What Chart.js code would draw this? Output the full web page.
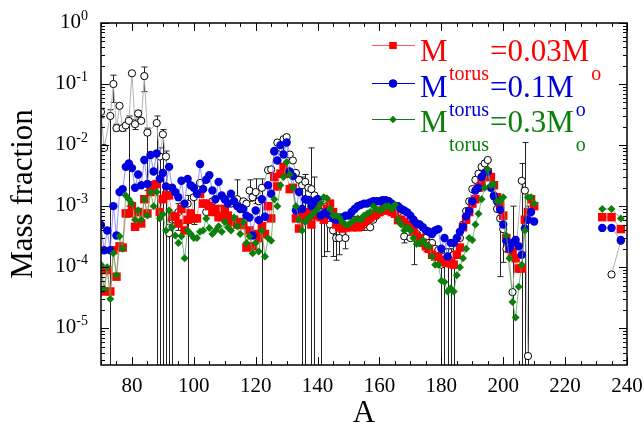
<!DOCTYPE html>
<html>
<head>
<meta charset="utf-8">
<script src="https://cdn.jsdelivr.net/npm/chart.js@4.4.1/dist/chart.umd.min.js"></script>
<style>
  html, body { margin: 0; padding: 0; background: #fff; }
</style>
</head>
<body>
<canvas id="plot" width="644" height="425"></canvas>
<script>
// mass numbers of the model points
const massA = [
  70, 71, 72, 73, 74, 75, 76, 77, 78, 79,
  80, 81, 82, 83, 84, 85, 86, 87, 88, 89,
  90, 91, 92, 93, 94, 95, 96, 97, 98, 99,
  100, 101, 102, 103, 104, 105, 106, 107, 108, 109,
  110, 111, 112, 113, 114, 115, 116, 117, 118, 119,
  120, 121, 122, 123, 124, 125, 126, 127, 128, 129,
  130, 131, 132, 133, 134, 135, 136, 137, 138, 139,
  140, 141, 142, 143, 144, 145, 146, 147, 148, 149,
  150, 151, 152, 153, 154, 155, 156, 157, 158, 159,
  160, 161, 162, 163, 164, 165, 166, 167, 168, 169,
  170, 171, 172, 173, 174, 175, 176, 177, 178, 179,
  180, 181, 182, 183, 184, 185, 186, 187, 188, 189,
  190, 191, 192, 193, 194, 195, 196, 197, 198, 199,
  200, 201, 202, 203, 204, 205, 206, 207, 208, 209, 210,
  232, 235, 238
];

// M_torus = 0.03 Msun
const torus003 = [
  9e-5, 4e-5, 9e-5, 4e-5, 1.9e-4, 7e-5, 2.2e-4, 2.1e-4, 7.6e-4, 7.6e-4,
  1e-3, 4.6e-4, 8e-4, 5.2e-4, 1.3e-3, 7.6e-4, 1.7e-3, 2.2e-3, 2.3e-3, 8e-4,
  1.3e-3, 1.5e-3, 1.5e-3, 6.7e-4, 6.7e-4, 5.2e-4, 9e-4, 4e-4, 6e-4, 7.6e-4,
  6.3e-4, 6.3e-4, 1.6e-3, 1.1e-3, 1.1e-3, 1e-3, 8e-4, 9e-4, 6.6e-4, 6.6e-4,
  9e-4, 7e-4, 5.5e-4, 6e-4, 5e-4, 5.5e-4, 4.9e-4, 2.1e-4, 4e-4, 2.2e-4,
  3.5e-4, 3e-4, 4.7e-4, 3.5e-4, 1e-3, 6.3e-4, 3e-3, 2.1e-3, 3.4e-3, 4.4e-3,
  3.4e-3, 1.9e-3, 2e-3, 6.3e-4, 4.3e-4, 7e-4, 6e-4, 8e-4, 5e-4, 7e-4,
  1.1e-3, 6.6e-4, 6e-4, 9e-4, 1.1e-3, 8e-4, 5e-4, 4.5e-4, 4.3e-4, 4.5e-4,
  4.6e-4, 4.5e-4, 4.8e-4, 4.5e-4, 4.7e-4, 5.5e-4, 6e-4, 6.5e-4, 7e-4, 7.5e-4,
  8e-4, 8.5e-4, 9e-4, 8.5e-4, 8e-4, 7.5e-4, 5.9e-4, 6e-4, 5.5e-4, 5e-4,
  4.5e-4, 3.8e-4, 3.2e-4, 3e-4, 2.5e-4, 2.2e-4, 2e-4, 1.6e-4, 1.5e-4, 1.5e-4,
  1.3e-4, 1.2e-4, 1.2e-4, 1.15e-4, 1.1e-4, 1.6e-4, 2.1e-4, 4.5e-4, 6e-4, 8e-4,
  1.1e-3, 1.3e-3, 2e-3, 2.5e-3, 3e-3, 3.6e-3, 3e-3, 2.2e-3, 1.4e-3, 1.05e-3,
  7e-4, 3e-4, 2e-4, 1.8e-4, 1.4e-4, 9.5e-5, 9.5e-5, 6e-4, 8e-4, 1.3e-3, 1e-3,
  6.6e-4, 6.6e-4, 4.2e-4
];

// M_torus = 0.1 Msun
const torus01 = [
  4.9e-4, 1.9e-4, 4e-4, 1.9e-4, 1e-3, 3.3e-4, 1.7e-3, 1.9e-3, 4.4e-3, 5e-3,
  4.2e-3, 2e-3, 3.3e-3, 2.2e-3, 5.7e-3, 2.3e-3, 6.9e-3, 3.7e-3, 7.3e-3, 2.8e-3,
  3.5e-3, 2.1e-3, 4.4e-3, 2e-3, 1.7e-3, 1.4e-3, 2.6e-3, 1.1e-3, 2.8e-3, 2.2e-3,
  2e-3, 1.6e-3, 4.9e-3, 1.9e-3, 2.7e-3, 3.2e-3, 1.8e-3, 1.3e-3, 2.5e-3, 1.5e-3,
  1.3e-3, 1.1e-3, 1.6e-3, 1.2e-3, 1e-3, 9e-4, 9e-4, 7e-4, 6.5e-4, 3.3e-4,
  8.5e-4, 5.9e-4, 1.3e-3, 6.7e-4, 2.2e-3, 1.6e-3, 8e-3, 5.6e-3, 1e-2, 7e-3,
  1.1e-2, 3.7e-3, 3.1e-3, 8.5e-4, 1.7e-3, 9e-4, 1.3e-3, 1.26e-3, 1e-3, 1.2e-3,
  1.3e-3, 7e-4, 7.6e-4, 8e-4, 7e-4, 6.3e-4, 6e-4, 6.5e-4, 6.5e-4, 7e-4,
  7e-4, 8e-4, 9e-4, 1e-3, 1.05e-3, 1.1e-3, 1.1e-3, 1.15e-3, 1.2e-3, 1.2e-3,
  1.2e-3, 1.25e-3, 1.25e-3, 1.2e-3, 1.1e-3, 1e-3, 1e-3, 9e-4, 8.5e-4, 7.9e-4,
  7e-4, 6e-4, 5.2e-4, 5e-4, 4.5e-4, 4e-4, 3.8e-4, 3.5e-4, 4e-4, 4.2e-4,
  2e-4, 3e-4, 1.5e-4, 2.5e-4, 2.5e-4, 3e-4, 3.8e-4, 4.6e-4, 6.8e-4, 8.3e-4,
  1.2e-3, 1.8e-3, 2e-3, 3e-3, 3.5e-3, 3.7e-3, 2e-3, 1.45e-3, 1.2e-3, 8.7e-4,
  5e-4, 2.7e-4, 2e-4, 2.5e-4, 2.8e-4, 2.2e-4, 1.6e-4, 4.3e-4, 6e-4, 8e-4, 5.6e-4,
  4.4e-4, 4.4e-4, 2.8e-4
];

// M_torus = 0.3 Msun
const torus03 = [
  1.1e-4, 4.4e-5, 1e-4, 3e-5, 1.7e-4, 7.4e-5, 3.2e-4, 2e-4, 1.5e-3, 1.3e-3,
  1.1e-3, 6e-4, 8.6e-4, 6e-4, 1.3e-3, 7e-4, 1.7e-3, 1e-3, 1.7e-3, 6.3e-4,
  7.4e-4, 4e-4, 8.5e-4, 4.5e-4, 3.3e-4, 2.5e-4, 3.2e-4, 1.4e-4, 4e-4, 3.5e-4,
  3e-4, 3e-4, 3.8e-4, 4e-4, 6.3e-4, 4.4e-4, 3.5e-4, 4e-4, 4.7e-4, 3.8e-4,
  5.5e-4, 4.5e-4, 4e-4, 6.5e-4, 4.7e-4, 3.5e-4, 5.5e-4, 2.5e-4, 3.2e-4, 1.7e-4,
  2.5e-4, 1.8e-4, 4e-4, 1.5e-4, 3e-4, 2.7e-4, 1.3e-3, 1e-3, 2.2e-3, 3e-3,
  5.3e-3, 3.3e-3, 2e-3, 1e-3, 6e-4, 4e-4, 5.5e-4, 6.3e-4, 7e-4, 8e-4,
  9e-4, 1.1e-3, 1.4e-3, 1.35e-3, 9e-4, 7e-4, 7e-4, 6.5e-4, 5.5e-4, 5e-4,
  5e-4, 5.5e-4, 6e-4, 6.3e-4, 6e-4, 7e-4, 7.5e-4, 8e-4, 1e-3, 9e-4,
  8.5e-4, 9e-4, 1e-3, 1e-3, 9e-4, 1.05e-3, 6e-4, 5e-4, 4e-4, 4.5e-4,
  4e-4, 3e-4, 2.4e-4, 2.5e-4, 2.8e-4, 2.3e-4, 2.2e-4, 1.5e-4, 1.1e-4, 1.1e-4,
  6e-5, 5.7e-5, 4e-5, 4.5e-5, 4e-5, 7.4e-5, 1e-4, 1.4e-4, 2e-4, 3e-4,
  2.8e-4, 5e-4, 7.5e-4, 1.3e-3, 2e-3, 4e-3, 2.2e-3, 2.3e-3, 1.2e-3, 1.2e-3,
  1.4e-3, 3.3e-4, 1.4e-4, 2.7e-5, 1.5e-5, 4.8e-5, 1.1e-4, 4e-4, 1.4e-3, 1.4e-3, 1.1e-3,
  9e-4, 9e-4, 6.3e-4
];

// solar r-process abundances (open circles) with error bars; lo = 0 means bar runs off the bottom
const solarA = [
  70, 71, 73, 74, 75, 76, 77, 78, 79, 80, 81, 82, 83, 84, 85,
  88, 89, 90, 91, 92, 93, 94, 95, 96, 97, 98, 99, 100,
  102, 104, 106, 108, 110, 112, 114, 116, 117, 118, 119, 120, 121, 122,
  124, 125, 126, 127, 128, 129, 130, 131, 132, 133, 134, 135, 136, 137, 138, 139,
  140, 141, 142, 143, 144, 145, 146, 147, 148, 149,
  150, 151, 152, 153, 154, 155, 156, 157, 158, 159,
  160, 161, 162, 163, 164, 165, 166, 167, 168, 169,
  170, 171, 172, 173, 174, 175, 176, 177, 178, 179,
  180, 181, 182, 183, 184, 185, 186, 187, 188, 189,
  190, 191, 192, 193, 194, 195, 196, 197, 198, 199,
  200, 201, 203, 206, 207, 208, 235, 238
];
const solarVal = [
  0.035, 0.009, 0.03, 0.1, 0.019, 0.044, 0.019, 0.021, 0.025, 0.15, 0.022, 0.033, 0.025, 0.135, 0.016,
  0.023, 0.0065, 0.015, 0.0065, 3.6e-4, 6e-4, 6e-4, 8e-4, 1e-3, 4.6e-4, 1.1e-3, 6e-4, 1.4e-3,
  2.4e-3, 8e-4, 1.2e-3, 9e-4, 1.3e-3, 1.1e-3, 1.3e-3, 1.2e-3, 1.1e-3, 1.8e-3, 1.4e-3, 1.7e-3, 1.2e-3, 2e-3,
  3.9e-3, 4e-3, 7.8e-3, 1.1e-2, 9e-3, 1.25e-2, 1.35e-2, 7e-3, 5.6e-3, 3.5e-3, 2.7e-3, 2.2e-3, 2.5e-3, 2e-3, 1.9e-3, 1.5e-3,
  1.3e-3, 8e-4, 6e-4, 1e-3, 5e-4, 4e-4, 3e-4, 3e-4, 5e-4, 3e-4,
  4.5e-4, 5e-4, 6e-4, 6e-4, 6e-4, 5e-4, 5.5e-4, 4.5e-4, 6e-4, 7e-4,
  8e-4, 9e-4, 1e-3, 1e-3, 1e-3, 9e-4, 8e-4, 6e-4, 3.2e-4, 5e-4,
  3e-4, 4e-4, 3.5e-4, 3e-4, 3e-4, 3e-4, 2.5e-4, 2.5e-4, 2e-4, 1.9e-4,
  1.1e-4, 1.5e-4, 1.5e-4, 1.5e-4, 1.6e-4, 2e-4, 3e-4, 5e-4, 8.3e-4, 1.2e-3,
  1.9e-3, 2.7e-3, 3.4e-3, 4.4e-3, 5e-3, 5.7e-3, 3e-3, 1.5e-3, 9e-4, 6.3e-4,
  4.2e-4, 2e-4, 3.9e-5, 2.6e-3, 1.8e-3, 3.5e-6, 7.6e-5, 2.7e-4
];
const solarLo = [
  0.028, null, 0, 0.05, 0.017, null, 0.017, null, 0.001, null, 0.018, 0.028, null, 0.075, 0.0018,
  0, 0, 0, 0, 0, 0, null, 4e-4, null, null, 0, null, 5e-4,
  null, null, null, null, null, null, 9e-4, null, null, 1.2e-3, null, 1.1e-3, null, 0,
  null, null, null, null, null, null, null, null, null, null, null, 0, 0, null, 0, 0,
  null, 0, 1.5e-4, 1.8e-4, null, 1.5e-4, 1.3e-4, 1.6e-4, null, 2e-4,
  null, null, null, null, null, 4e-4, null, null, null, null,
  null, null, null, null, null, null, null, null, 2.5e-4, null,
  null, 1.1e-4, null, null, null, 1.8e-4, null, null, null, null,
  0, 0, 0, 0, 0, null, null, null, null, null,
  null, null, null, null, null, null, null, null, null, 7e-5,
  1.2e-4, null, 0, 0, 0, 0, null, null
];
const solarHi = [
  0.04, null, 0.038, 0.14, 0.022, null, 0.021, null, 0.03, null, 0.026, 0.037, null, 0.19, 0.019,
  0.03, 0.009, 0.018, 0.008, 5e-4, 8e-4, null, 1.1e-3, null, null, 1.5e-3, null, 2e-3,
  null, null, null, null, null, null, 2.7e-3, null, null, 2.7e-3, null, 2.8e-3, null, 2.8e-3,
  null, null, null, null, null, null, null, null, null, null, null, 3e-3, 3.3e-3, null, 9e-3, 3e-3,
  null, 1.2e-3, 9e-4, 1.3e-3, null, 6e-4, 4.5e-4, 4.5e-4, null, 5e-4,
  null, null, null, null, null, 6e-4, null, null, null, null,
  null, null, null, null, null, null, null, null, 5e-4, null,
  null, 5e-4, null, null, null, 4e-4, null, null, null, null,
  1.5e-4, 2e-4, 2e-4, 2e-4, 2.2e-4, null, null, null, null, null,
  null, null, null, null, null, null, null, null, null, 8e-4,
  6e-4, null, 1e-3, 5e-3, 1.1e-2, 1e-3, null, null
];

// axis ticks and legend text
const xTickVals = [80, 100, 120, 140, 160, 180, 200, 220, 240];
const yTickExps = [0, -1, -2, -3, -4, -5];
const legendValues = ['=0.03M', '=0.1M', '=0.3M'];
const legendColors = ['#ff0000', '#0000dd', '#0a800a'];

const SERIF = '"Liberation Serif", "Times New Roman", serif';

const toPoints = (xs, ys) => xs.map((x, i) => ({ x: x, y: ys[i] }));

// no connecting line across the big hole between A=210 and the actinides
const gapSegment = {
  borderColor: c => (c.p1.parsed.x - c.p0.parsed.x > 10 ? 'rgba(0,0,0,0)' : undefined)
};

// error bars of the open circles, drawn under the markers
const errorBars = {
  id: 'errorBars',
  beforeDatasetsDraw(chart) {
    const { ctx, chartArea, scales } = chart;
    ctx.save();
    ctx.beginPath();
    ctx.rect(chartArea.left, chartArea.top, chartArea.right - chartArea.left, chartArea.bottom - chartArea.top);
    ctx.clip();
    ctx.strokeStyle = '#222';
    ctx.lineWidth = 1;
    solarA.forEach((a, i) => {
      if (solarHi[i] == null) return;
      const x = Math.round(scales.x.getPixelForValue(a)) + 0.5;
      const yHi = scales.y.getPixelForValue(solarHi[i]);
      const yLo = solarLo[i] === 0 ? chartArea.bottom + 2 : scales.y.getPixelForValue(solarLo[i]);
      ctx.beginPath();
      ctx.moveTo(x, yHi);
      ctx.lineTo(x, yLo);
      ctx.moveTo(x - 3, yHi);
      ctx.lineTo(x + 3, yHi);
      if (solarLo[i] !== 0) {
        ctx.moveTo(x - 3, yLo);
        ctx.lineTo(x + 3, yLo);
      }
      ctx.stroke();
    });
    ctx.restore();
  }
};

// frame with inward ticks, tick labels, axis titles and the legend
const frame = {
  id: 'frame',
  afterDatasetsDraw(chart) {
    const { ctx, chartArea, scales } = chart;
    const { left, right, top, bottom } = chartArea;
    ctx.save();
    ctx.strokeStyle = '#000';
    ctx.lineWidth = 1.5;
    ctx.strokeRect(left, top, right - left, bottom - top);

    ctx.lineWidth = 1;
    ctx.beginPath();
    for (let a = 70; a <= 240; a += 5) {
      const x = Math.round(scales.x.getPixelForValue(a)) + 0.5;
      const len = a % 20 === 0 ? 8 : 4;
      ctx.moveTo(x, bottom); ctx.lineTo(x, bottom - len);
      ctx.moveTo(x, top); ctx.lineTo(x, top + len);
    }
    for (let e = -6; e <= 0; e++) {
      for (let m = 1; m <= 9; m++) {
        const v = m * Math.pow(10, e);
        if (v < scales.y.min || v > scales.y.max) continue;
        const y = Math.round(scales.y.getPixelForValue(v)) + 0.5;
        const len = m === 1 ? 8 : 4;
        ctx.moveTo(left, y); ctx.lineTo(left + len, y);
        ctx.moveTo(right, y); ctx.lineTo(right - len, y);
      }
    }
    ctx.stroke();

    ctx.fillStyle = '#000';
    ctx.font = '21px ' + SERIF;
    ctx.textAlign = 'center';
    ctx.textBaseline = 'alphabetic';
    xTickVals.forEach(v => {
      ctx.fillText(String(v), scales.x.getPixelForValue(v), 392);
    });

    yTickExps.forEach(e => {
      const y = scales.y.getPixelForValue(Math.pow(10, e));
      ctx.textAlign = 'right';
      ctx.font = '14px ' + SERIF;
      const ex = String(e);
      const ew = ctx.measureText(ex).width;
      ctx.fillText(ex, 88, y - 3);
      ctx.font = '21px ' + SERIF;
      ctx.fillText('10', 88 - ew, y + 5);
    });

    ctx.font = '31px ' + SERIF;
    ctx.textAlign = 'center';
    ctx.fillText('A', (left + right) / 2, 422);
    ctx.save();
    ctx.translate(32, (top + bottom) / 2);
    ctx.rotate(-Math.PI / 2);
    ctx.fillText('Mass fraction', 0, 0);
    ctx.restore();

    // legend (subscripts land one row lower, as in the original)
    const lineY = [45, 83, 119];
    const baseY = [61, 97, 132];
    const styles = ['rect', 'circle', 'rectRot'];
    const radii = [5, 4, 3.5];
    legendValues.forEach((txt, i) => {
      const c = legendColors[i];
      ctx.strokeStyle = i === 0 ? '#ff5a5a' : c;
      ctx.lineWidth = 1;
      ctx.beginPath();
      ctx.moveTo(372, lineY[i] + 0.5);
      ctx.lineTo(415, lineY[i] + 0.5);
      ctx.stroke();
      ctx.fillStyle = c;
      Chart.helpers.drawPoint(ctx, { pointStyle: styles[i], radius: radii[i], borderWidth: 0 }, 393, lineY[i] + 0.5);
      ctx.fill();
      ctx.textAlign = 'left';
      ctx.font = '31px ' + SERIF;
      ctx.fillText('M', 420, baseY[i]);
      ctx.fillText(txt, 490, baseY[i]);
      const w = ctx.measureText(txt).width;
      ctx.font = '20px ' + SERIF;
      ctx.fillText('torus', 449, baseY[i] + 19);
      ctx.fillText('o', 492 + w, baseY[i] + 19);
    });
    ctx.restore();
  }
};

const ctx = document.getElementById('plot').getContext('2d');

new Chart(ctx, {
  type: 'scatter',
  data: {
    datasets: [
      {
        label: 'solar r',
        data: toPoints(solarA, solarVal),
        showLine: true,
        borderColor: '#b4b4b4',
        borderWidth: 1,
        segment: gapSegment,
        pointStyle: 'circle',
        pointRadius: 3.6,
        pointBorderColor: '#000',
        pointBackgroundColor: '#fff',
        pointBorderWidth: 1,
        order: 4
      },
      {
        label: 'Mtorus=0.03Mo',
        data: toPoints(massA, torus003),
        showLine: true,
        borderColor: 'rgba(255,110,110,0.8)',
        borderWidth: 1,
        segment: gapSegment,
        pointStyle: 'rect',
        pointRadius: 6,
        pointBorderWidth: 0,
        pointBackgroundColor: legendColors[0],
        order: 3
      },
      {
        label: 'Mtorus=0.1Mo',
        data: toPoints(massA, torus01),
        showLine: true,
        borderColor: 'rgba(120,120,255,0.8)',
        borderWidth: 1,
        segment: gapSegment,
        pointStyle: 'circle',
        pointRadius: 4.2,
        pointBorderWidth: 0,
        pointBackgroundColor: legendColors[1],
        order: 2
      },
      {
        label: 'Mtorus=0.3Mo',
        data: toPoints(massA, torus03),
        showLine: true,
        borderColor: 'rgba(90,170,90,0.8)',
        borderWidth: 1,
        segment: gapSegment,
        pointStyle: 'rectRot',
        pointRadius: 4,
        pointBorderWidth: 0,
        pointBackgroundColor: legendColors[2],
        order: 1
      }
    ]
  },
  options: {
    responsive: false,
    animation: false,
    layout: { padding: { top: 23, right: 17, left: 0, bottom: 0 } },
    plugins: {
      legend: { display: false },
      tooltip: { enabled: false }
    },
    scales: {
      x: {
        type: 'linear',
        min: 70,
        max: 240,
        grid: { display: false },
        border: { display: false },
        ticks: { display: false },
        afterFit(scale) { scale.height = 60; }
      },
      y: {
        type: 'logarithmic',
        min: 2.5e-6,
        max: 1,
        grid: { display: false },
        border: { display: false },
        ticks: { display: false },
        afterFit(scale) { scale.width = 101; }
      }
    }
  },
  plugins: [errorBars, frame]
});
</script>
</body>
</html>
